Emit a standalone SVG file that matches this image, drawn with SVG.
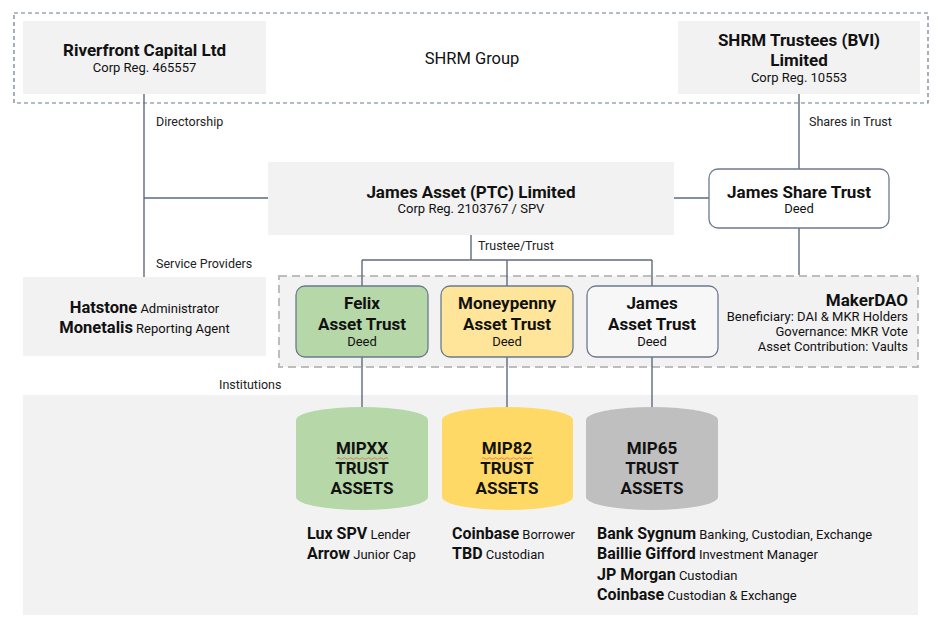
<svg xmlns="http://www.w3.org/2000/svg" width="940" height="623" viewBox="0 0 940 623">
<style>
text{font-family:Roboto,"Liberation Sans",sans-serif;fill:#111}
.b{font-weight:bold;font-size:17px}
.s{font-size:13px}
.lbl{font-size:12.5px;fill:#222}
.bx{fill:#f2f2f2}
.rb{stroke:#6b7a8f;stroke-width:1.3}
.ln{stroke:#5f6b7d;stroke-width:1.4;fill:none}
.bb{font-weight:bold;font-size:16px}
</style>
<rect width="940" height="623" fill="#fff"/>
<g id="shrm-group">
<rect x="14" y="13" width="914" height="90" fill="none" stroke="#6b7a8f" stroke-width="1.2" stroke-dasharray="4 3"/>
<text x="472" y="64" font-size="16.5" text-anchor="middle">SHRM Group</text>
</g>
<g id="makerdao-box">
<rect x="279" y="276" width="639" height="91" fill="#f2f2f2" stroke="#bdbdbd" stroke-width="2" stroke-dasharray="8 5"/>
</g>
<g id="institutions-box">
<rect class="bx" x="23" y="395" width="895" height="220"/>
</g>
<g id="connectors">
<path class="ln" d="M144,94V277M144,198H268M674,198H709M799,94V169M799,228V275M471,235V260M362,260H652M362,260V286M507,260V286M652,260V286M362,357V407M507,357V407M652,357V407"/>
</g>
<g id="riverfront">
<rect class="bx" x="23" y="21" width="243" height="73"/>
<text class="b" x="144.5" y="56" text-anchor="middle">Riverfront Capital Ltd</text>
<text class="s" x="144.5" y="72" text-anchor="middle">Corp Reg. 465557</text>
</g>
<g id="shrm-trustees">
<rect class="bx" x="678" y="21" width="242" height="73"/>
<text class="b" x="799" y="46" text-anchor="middle">SHRM Trustees (BVI)</text>
<text class="b" x="799" y="66" text-anchor="middle">Limited</text>
<text class="s" x="799" y="82" text-anchor="middle">Corp Reg. 10553</text>
</g>
<g id="james-ptc">
<rect class="bx" x="268" y="162" width="406" height="73"/>
<text class="b" x="471" y="198" text-anchor="middle">James Asset (PTC) Limited</text>
<text class="s" x="471" y="213" text-anchor="middle">Corp Reg. 2103767 / SPV</text>
</g>
<g id="james-share-trust">
<rect class="rb" x="709" y="169" width="180" height="59" rx="9" fill="#fff"/>
<text class="b" x="799" y="198" text-anchor="middle">James Share Trust</text>
<text class="s" x="799" y="213" text-anchor="middle">Deed</text>
</g>
<g id="hatstone">
<rect class="bx" x="23" y="277" width="243" height="79"/>
<text x="144.5" y="313" text-anchor="middle"><tspan font-weight="bold" font-size="16.5">Hatstone</tspan><tspan font-size="13"> Administrator</tspan></text>
<text x="144.5" y="333" text-anchor="middle"><tspan font-weight="bold" font-size="16.5">Monetalis</tspan><tspan font-size="13"> Reporting Agent</tspan></text>
</g>
<g id="felix-trust">
<rect class="rb" x="296" y="286" width="132" height="71" rx="9" fill="#b6d7a8"/>
<text class="b" x="362" y="309" text-anchor="middle">Felix</text>
<text class="b" x="362" y="330" text-anchor="middle">Asset Trust</text>
<text class="s" x="362" y="346" text-anchor="middle">Deed</text>
</g>
<g id="moneypenny-trust">
<rect class="rb" x="441" y="286" width="132" height="71" rx="9" fill="#ffe599"/>
<text class="b" x="507" y="309" text-anchor="middle">Moneypenny</text>
<text class="b" x="507" y="330" text-anchor="middle">Asset Trust</text>
<text class="s" x="507" y="346" text-anchor="middle">Deed</text>
</g>
<g id="james-asset-trust">
<rect class="rb" x="587" y="286" width="131" height="71" rx="9" fill="#f7f7f7"/>
<text class="b" x="652" y="309" text-anchor="middle">James</text>
<text class="b" x="652" y="330" text-anchor="middle">Asset Trust</text>
<text class="s" x="652" y="346" text-anchor="middle">Deed</text>
</g>
<g id="makerdao">
<text class="b" x="908" y="306" text-anchor="end">MakerDAO</text>
<text class="s" x="908" y="321" text-anchor="end">Beneficiary: DAI &amp; MKR Holders</text>
<text class="s" x="908" y="336" text-anchor="end">Governance: MKR Vote</text>
<text class="s" x="908" y="351" text-anchor="end">Asset Contribution: Vaults</text>
</g>
<g id="labels">
<text class="lbl" x="156" y="126">Directorship</text>
<text class="lbl" x="809" y="126">Shares in Trust</text>
<text class="lbl" x="478" y="250">Trustee/Trust</text>
<text class="lbl" x="156" y="268">Service Providers</text>
<text class="lbl" x="219" y="389">Institutions</text>
</g>
<g id="mipxx">
<path d="M296,420A66,13 0 0 1 428,420V497A66,13 0 0 1 296,497Z" fill="#b6d7a8"/>
<text class="b" x="362" y="454" text-anchor="middle">MIPXX</text>
<text class="b" x="362" y="474" text-anchor="middle">TRUST</text>
<text class="b" x="362" y="494" text-anchor="middle">ASSETS</text>
<path d="M337,458.5q1.5,-1.5 3,0t3,0t3,0t3,0t3,0t3,0t3,0t3,0t3,0t3,0t3,0t3,0t3,0t3,0t3,0t3,0t3,0" fill="none" stroke="#e06666" stroke-width="0.8"/>
</g>
<g id="mip82">
<path d="M442,420A65.5,13 0 0 1 573,420V497A65.5,13 0 0 1 442,497Z" fill="#ffd966"/>
<text class="b" x="507" y="454" text-anchor="middle">MIP82</text>
<text class="b" x="507" y="474" text-anchor="middle">TRUST</text>
<text class="b" x="507" y="494" text-anchor="middle">ASSETS</text>
<path d="M482,458.5q1.5,-1.5 3,0t3,0t3,0t3,0t3,0t3,0t3,0t3,0t3,0t3,0t3,0t3,0t3,0t3,0t3,0t3,0t3,0" fill="none" stroke="#e06666" stroke-width="0.8"/>
</g>
<g id="mip65">
<path d="M586,420A66,13 0 0 1 718,420V497A66,13 0 0 1 586,497Z" fill="#bfbfbf"/>
<text class="b" x="652" y="454" text-anchor="middle">MIP65</text>
<text class="b" x="652" y="474" text-anchor="middle">TRUST</text>
<text class="b" x="652" y="494" text-anchor="middle">ASSETS</text>
</g>
<g id="mipxx-parties">
<text x="307" y="539"><tspan class="bb">Lux SPV</tspan><tspan class="s"> Lender</tspan></text>
<text x="307" y="559"><tspan class="bb">Arrow</tspan><tspan class="s"> Junior Cap</tspan></text>
</g>
<g id="mip82-parties">
<text x="452" y="539"><tspan class="bb">Coinbase</tspan><tspan class="s"> Borrower</tspan></text>
<text x="452" y="559"><tspan class="bb">TBD</tspan><tspan class="s"> Custodian</tspan></text>
</g>
<g id="mip65-parties">
<text x="597" y="539"><tspan class="bb">Bank Sygnum</tspan><tspan class="s"> Banking, Custodian, Exchange</tspan></text>
<text x="597" y="559"><tspan class="bb">Baillie Gifford</tspan><tspan class="s"> Investment Manager</tspan></text>
<text x="597" y="580"><tspan class="bb">JP Morgan</tspan><tspan class="s"> Custodian</tspan></text>
<text x="597" y="600"><tspan class="bb">Coinbase</tspan><tspan class="s"> Custodian &amp; Exchange</tspan></text>
</g>
</svg>
